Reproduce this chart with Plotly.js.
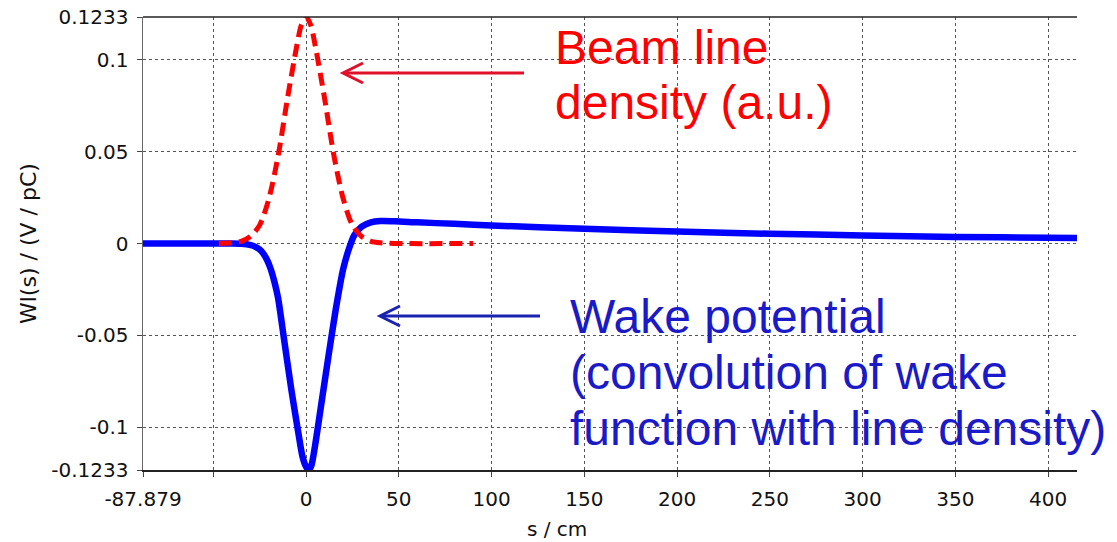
<!DOCTYPE html>
<html>
<head>
<meta charset="utf-8">
<script src="https://cdn.plot.ly/plotly-3.0.1.min.js"></script>
<style>html,body{margin:0;padding:0;background:#fff;}#chart{width:1117px;height:542px;}</style>
</head>
<body>
<div id="chart"></div>
<script>
// ---- data ----
const wakeS = [-87.879, -40, -35, -32, -29, -27, -25, -23, -21, -19, -17, -15, -12, -8, -4, -2, 0, 1.6, 3, 5.2, 8, 12, 16, 20, 23, 26, 30, 35, 40, 48, 60, 80, 100, 150, 200, 250, 300, 350, 400, 415.6];
const wakeV = [0, 0, -0.0001, -0.0004, -0.0011, -0.0020, -0.0033, -0.0055, -0.0090, -0.0140, -0.0210, -0.0300, -0.0510, -0.0790, -0.1040, -0.1156, -0.1215, -0.1233, -0.1205, -0.108, -0.089, -0.062, -0.036, -0.014, -0.0033, 0.0045, 0.0092, 0.0115, 0.0122, 0.0121, 0.0115, 0.0107, 0.0098, 0.0080, 0.0065, 0.0053, 0.0044, 0.0036, 0.0031, 0.0030];

const beamS = [-47, -40, -35, -30, -25, -20, -15, -10, -5, -2.5, 0, 2.5, 5, 10, 15, 20, 25, 30, 35, 40, 50, 90];
const beamV = [0, 0.0004, 0.0012, 0.0038, 0.0100, 0.0245, 0.048, 0.079, 0.1075, 0.119, 0.1233, 0.119, 0.1075, 0.079, 0.048, 0.0245, 0.0100, 0.0038, 0.0012, 0.0004, 0, 0];

const xTickVals = [-87.879, -50, 0, 50, 100, 150, 200, 250, 300, 350, 400];
const xTickText = ['-87.879', '', '0', '50', '100', '150', '200', '250', '300', '350', '400'];
const yTickVals = [-0.1233, -0.1, -0.05, 0, 0.05, 0.1, 0.1233];
const yTickText = ['-0.1233', '-0.1', '-0.05', '0', '0.05', '0.1', '0.1233'];

const xTitle = 's / cm';
const yTitle = 'Wl(s) / (V / pC)';
const beamLabel = ['Beam line', 'density (a.u.)'];
const wakeLabel = ['Wake potential', '(convolution of wake', 'function with line density)'];

// ---- layout helpers (pixel -> paper) ----
const L = 143, T = 17, W = 934, H = 453;
const px = v => (v - L) / W;
const py = v => (T + H - v) / H;

const tickFont = {family: 'DejaVu Sans, sans-serif', size: 20, color: '#111'};

const traces = [
  {x: wakeS, y: wakeV, type: 'scatter', mode: 'lines',
   line: {color: '#0000ff', width: 6.5, shape: 'spline', smoothing: 0.6}, hoverinfo: 'skip'},
  {x: beamS, y: beamV, type: 'scatter', mode: 'lines',
   line: {color: '#ff0000', width: 5, dash: '13px,7px', shape: 'spline', smoothing: 0.8}, hoverinfo: 'skip'}
];

const red = '#ff0000', redArrow = '#e0102a';
const blue = '#1a1ac8', blueArrow = '#1a22b0';

function arrowShapes(tipX, tipY, tailX, col) {
  return [
    {type: 'line', xref: 'paper', yref: 'paper', x0: px(tailX), y0: py(tipY), x1: px(tipX + 1), y1: py(tipY), line: {color: col, width: 3}},
    {type: 'path', xref: 'paper', yref: 'paper',
     path: 'M ' + px(tipX + 20) + ' ' + py(tipY - 10) + ' L ' + px(tipX) + ' ' + py(tipY) + ' L ' + px(tipX + 20) + ' ' + py(tipY + 10),
     line: {color: col, width: 3}}
  ];
}

const annotations = [];
function textLine(txt, x, y, col) {
  annotations.push({text: txt, xref: 'paper', yref: 'paper', x: px(x), y: py(y), xanchor: 'left', yanchor: 'middle',
    showarrow: false, font: {family: 'Liberation Sans, Arial, sans-serif', size: 48, color: col}});
}
textLine(beamLabel[0], 553, 47, red);
textLine(beamLabel[1], 553, 103, red);
textLine(wakeLabel[0], 568, 316, blue);
textLine(wakeLabel[1], 568, 372, blue);
textLine(wakeLabel[2], 568, 428, blue);
annotations.push({text: xTitle, xref: 'paper', yref: 'paper', x: px(557), y: py(529), xanchor: 'center', yanchor: 'middle',
  showarrow: false, font: {family: 'DejaVu Sans, sans-serif', size: 20, color: '#111'}});
annotations.push({text: yTitle, xref: 'paper', yref: 'paper', x: px(28), y: py(244), xanchor: 'center', yanchor: 'middle',
  textangle: -90, showarrow: false, font: {family: 'DejaVu Sans, sans-serif', size: 22, color: '#111'}});

const shapes = [
  {type: 'line', xref: 'paper', yref: 'paper', x0: 0, x1: 1, y0: 1, y1: 1, line: {color: '#222', width: 1.5}}
].concat(arrowShapes(343, 73, 524, redArrow), arrowShapes(380, 316, 540, blueArrow));

const layout = {
  width: 1117, height: 542,
  margin: {l: L, r: 1117 - L - W, t: T, b: 542 - T - H, pad: 0},
  paper_bgcolor: '#ffffff', plot_bgcolor: '#ffffff',
  showlegend: false,
  xaxis: {
    range: [-87.879, 415.6], tickmode: 'array', tickvals: xTickVals, ticktext: xTickText,
    showgrid: true, gridcolor: '#555', gridwidth: 1, griddash: 'dot', zeroline: false,
    showline: true, linecolor: '#222', linewidth: 1.5, ticks: 'outside', ticklen: 5, tickcolor: '#444',
    tickfont: tickFont, ticklabelstandoff: 5
  },
  yaxis: {
    range: [-0.1233, 0.1233], tickmode: 'array', tickvals: yTickVals, ticktext: yTickText,
    showgrid: true, gridcolor: '#555', gridwidth: 1, griddash: 'dot', zeroline: false,
    showline: true, linecolor: '#666', linewidth: 1.5, ticks: 'outside', ticklen: 5, tickcolor: '#444',
    tickfont: tickFont, ticklabelstandoff: 4
  },
  annotations: annotations,
  shapes: shapes
};

Plotly.newPlot('chart', traces, layout, {displayModeBar: false, staticPlot: true});
</script>
</body>
</html>
